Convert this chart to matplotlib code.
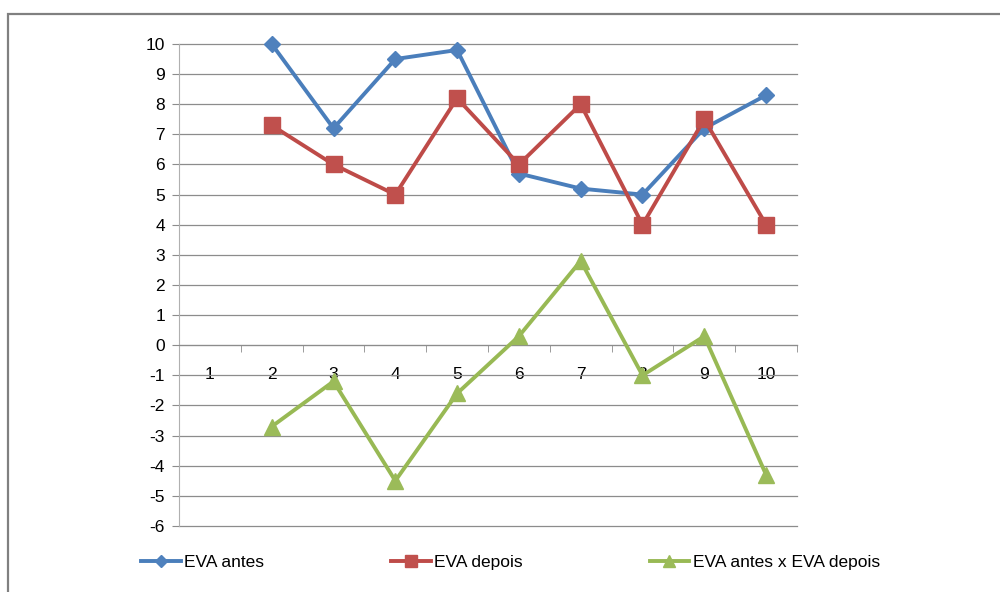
import numpy as np
import matplotlib.pyplot as plt
from matplotlib.patches import Rectangle

plt.rcParams['font.family'] = ['Liberation Sans', 'DejaVu Sans']

# Values per period (1..10); period 1 has no data
periods = [1, 2, 3, 4, 5, 6, 7, 8, 9, 10]
eva_antes = [np.nan, 10.0, 7.2, 9.5, 9.8, 5.7, 5.2, 5.0, 7.2, 8.3]
eva_depois = [np.nan, 7.3, 6.0, 5.0, 8.2, 6.0, 8.0, 4.0, 7.5, 4.0]
eva_diff = [np.nan, -2.7, -1.2, -4.5, -1.6, 0.3, 2.8, -1.0, 0.3, -4.3]
series_names = ["EVA antes", "EVA depois", "EVA antes x EVA depois"]
y_ticks = list(range(-6, 11))

fig = plt.figure(figsize=(10, 5.92), dpi=100)
ax = fig.add_axes([0.179, 0.1115, 0.618, 0.8142])

# Chart frame
fig.patches.append(Rectangle((0.008, -0.01), 1.2, 0.987, transform=fig.transFigure,
                             fill=False, edgecolor='#808080', linewidth=1.6))

style = dict(linewidth=2.8, zorder=3, clip_on=False)
ax.plot(periods, eva_antes, color='#4A7EBB', marker='D', markersize=8,
        markerfacecolor='#4F81BD', markeredgecolor='#4F81BD', label=series_names[0], **style)
ax.plot(periods, eva_depois, color='#BE4B48', marker='s', markersize=11,
        markerfacecolor='#C0504D', markeredgecolor='#C0504D', label=series_names[1], **style)
ax.plot(periods, eva_diff, color='#98B954', marker='^', markersize=11.5,
        markerfacecolor='#9BBB59', markeredgecolor='#9BBB59', label=series_names[2], **style)

ax.set_xlim(0.5, 10.5)
ax.set_ylim(-6, 10)
ax.set_yticks(y_ticks)
ax.set_yticklabels([str(v) for v in y_ticks])
ax.grid(axis='y', color='#8c8c8c', linewidth=0.9)
ax.set_axisbelow(True)
for gl in ax.get_ygridlines():
    gl.set_clip_on(False)

for side in ['top', 'right']:
    ax.spines[side].set_visible(False)
ax.spines['left'].set_color('#b0b0b0')
ax.spines['bottom'].set_position(('data', 0))
ax.spines['bottom'].set_color('#8c8c8c')

# category labels at centres, tick marks at boundaries
ax.set_xticks(periods)
ax.set_xticklabels([str(p) for p in periods])
ax.set_xticks(np.arange(0.5, 11, 1), minor=True)
ax.tick_params(axis='x', which='major', length=0, pad=16, labelsize=12.5)
ax.tick_params(axis='x', which='minor', length=5, color='#8c8c8c', direction='out')
ax.tick_params(axis='y', length=5, color='#8c8c8c', labelsize=12.5, pad=5)

fig.legend(loc='center left', bbox_to_anchor=(0.125, 0.05), ncol=3, frameon=False,
           fontsize=12.5, handlelength=2.3, handletextpad=0.2, columnspacing=7.3,
           markerscale=0.8)

plt.savefig('out.png', dpi=100)
plt.close()
